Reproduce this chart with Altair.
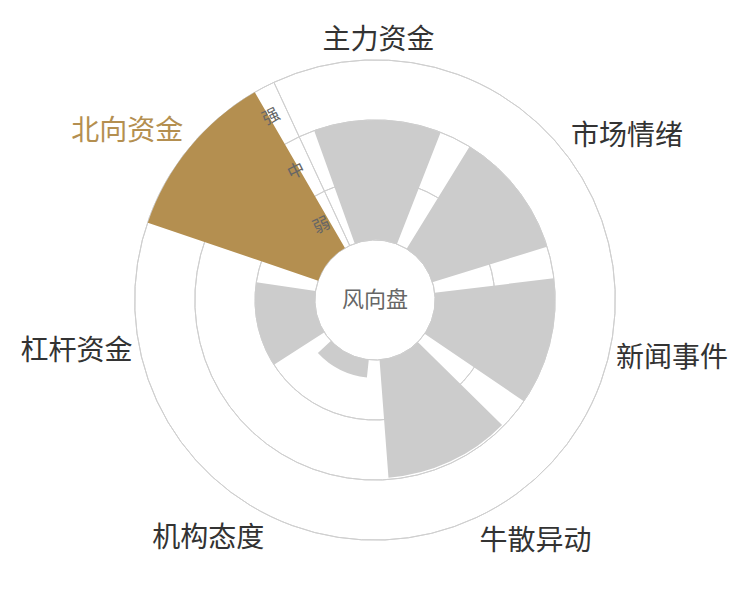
import math
import altair as alt
import pandas as pd

# ---- data -------------------------------------------------------------
categories = ["主力资金", "市场情绪", "新闻事件", "牛散异动", "机构态度", "杠杆资金", "北向资金"]
values = [2.0, 2.0, 2.0, 1.97, 0.3, 1.0, 3.0]
highlighted = "北向资金"
levels = ["弱", "中", "强"]
center_title = "风向盘"

# ---- styles -----------------------------------------------------------
GOLD = "#b48f50"
GREY = "#cccccc"
LINE = "#cfcfcf"
FONT = "Noto Sans CJK SC"

n = len(categories)
idx = list(range(n))
nl = len(levels)

bars = pd.DataFrame({
    "cat": categories,
    "start": [i - 0.4 for i in idx],
    "end": [i + 0.4 for i in idx],
    "value": values,
    "base": [0] * n,
    "kind": ["hl" if c == highlighted else "norm" for c in categories],
})
pos = pd.DataFrame({"cat": categories, "pos": idx})
rings = pd.DataFrame({"r": list(range(nl + 1)), "a0": [-0.5] * (nl + 1), "a1": [n - 0.5] * (nl + 1)})
lvl_df = pd.DataFrame({"lvl": levels, "mid": [k + 0.5 for k in range(nl)], "axis": [-0.5] * nl})
axis_df = pd.DataFrame({"a": [-0.5], "r0": [0], "r1": [nl]})
title_df = pd.DataFrame({"t": [center_title]})

rot = math.radians(0.8)
theta_scale = alt.Scale(type="linear", domain=[-0.5, n - 0.5],
                        range=[2 * math.pi - math.pi / n + rot, 4 * math.pi - math.pi / n + rot])
r_scale = alt.Scale(type="linear", domain=[0, nl], range=[60, 240])

rings_layer = alt.Chart(rings).mark_arc(filled=False, stroke=LINE, strokeWidth=1).encode(
    theta=alt.Theta("a0:Q", scale=theta_scale, stack=False),
    theta2="a1:Q",
    radius=alt.Radius("r:Q", scale=r_scale, stack=False),
    radius2="r:Q",
)

axis_layer = alt.Chart(axis_df).mark_arc(filled=False, stroke=LINE, strokeWidth=1).encode(
    theta=alt.Theta("a:Q", scale=theta_scale, stack=False),
    theta2="a:Q",
    radius=alt.Radius("r1:Q", scale=r_scale, stack=False),
    radius2="r0:Q",
)

bar_layer = alt.Chart(bars).mark_arc().encode(
    theta=alt.Theta("start:Q", scale=theta_scale, stack=False),
    theta2="end:Q",
    radius=alt.Radius("value:Q", scale=r_scale, stack=False),
    radius2="base:Q",
    color=alt.Color("kind:N", scale=alt.Scale(domain=["hl", "norm"], range=[GOLD, GREY]), legend=None),
)

lvl_layer = alt.Chart(lvl_df).mark_text(
    font=FONT, fontSize=17, color="#666666", angle=334, dx=-17, align="center", baseline="middle"
).encode(
    theta=alt.Theta("axis:Q", scale=theta_scale, stack=False),
    radius=alt.Radius("mid:Q", scale=r_scale, stack=False),
    text="lvl:N",
)

placements = {
    "主力资金": ("center", "bottom", 3),
    "市场情绪": ("left", "bottom", 3),
    "新闻事件": ("left", "middle", 0),
    "牛散异动": ("left", "top", 3),
    "机构态度": ("right", "top", 3),
    "杠杆资金": ("right", "middle", 0),
    "北向资金": ("right", "bottom", 3),
}

label_layers = []
for c in categories:
    al, bl, off = placements[c]
    label_layers.append(
        alt.Chart(pos).transform_filter(alt.datum.cat == c).mark_text(
            font=FONT, fontSize=28, align=al, baseline=bl, dy=off,
            color=GOLD if c == highlighted else "#333333",
        ).encode(
            theta=alt.Theta("pos:Q", scale=theta_scale, stack=False),
            radius=alt.value(248),
            text="cat:N",
        )
    )

title_layer = alt.Chart(title_df).mark_text(
    font=FONT, fontSize=22, color="#666666", align="center", baseline="middle"
).encode(text="t:N")

chart = alt.layer(rings_layer, axis_layer, bar_layer, lvl_layer, *label_layers, title_layer).properties(
    width=734, height=584, autosize=alt.AutoSizeParams(type="none"), padding=0
).configure_view(strokeWidth=0)

chart.save("out.html", embed_options={"renderer": "svg", "actions": False})
